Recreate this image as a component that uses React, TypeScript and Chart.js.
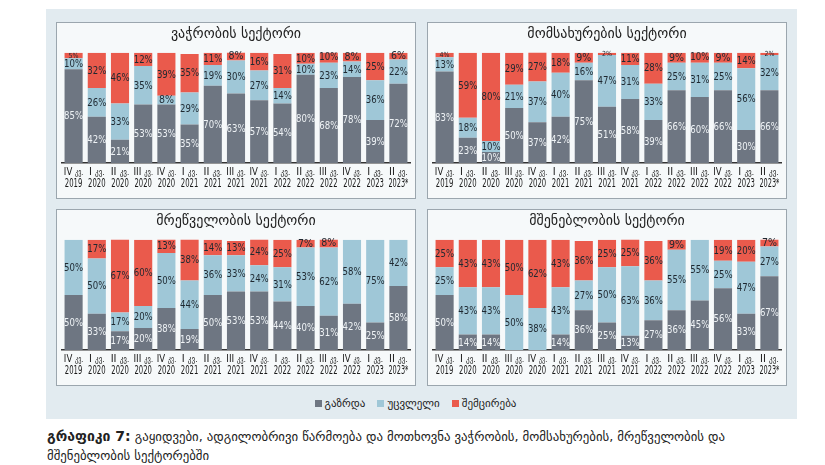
import React, { useEffect, useRef } from "react";
import { Chart, registerables } from "chart.js";

Chart.register(...registerables);

const CATEGORIES: string[][] = [
  ["IV კვ.", "2019"], ["I კვ.", "2020"], ["II კვ.", "2020"], ["III კვ.", "2020"],
  ["IV კვ.", "2020"], ["I კვ.", "2021"], ["II კვ.", "2021"], ["III კვ.", "2021"],
  ["IV კვ.", "2021"], ["I კვ.", "2022"], ["II კვ.", "2022"], ["III კვ.", "2022"],
  ["IV კვ.", "2022"], ["I კვ.", "2023"], ["II კვ.", "2023*"],
];

const SERIES_NAMES = ["გაზრდა", "უცვლელი", "შემცირება"];

const TITLES = ["ვაჭრობის სექტორი", "მომსახურების სექტორი", "მრეწველობის სექტორი", "მშენებლობის სექტორი"];

// Trade
const TRADE_UP = [85, 42, 21, 53, 53, 35, 70, 63, 57, 54, 80, 68, 78, 39, 72];
const TRADE_SAME = [10, 26, 33, 35, 8, 29, 19, 30, 27, 14, 10, 23, 14, 36, 22];
const TRADE_DOWN = [5, 32, 46, 12, 39, 35, 11, 8, 16, 31, 10, 10, 8, 25, 6];
// Services
const SERV_UP = [83, 23, 10, 50, 37, 42, 75, 51, 58, 39, 66, 60, 66, 30, 66];
const SERV_SAME = [13, 18, 10, 21, 37, 40, 16, 47, 31, 33, 25, 31, 25, 56, 32];
const SERV_DOWN = [4, 59, 80, 29, 27, 18, 9, 2, 11, 28, 9, 10, 9, 14, 2];
// Industry
const IND_UP = [50, 33, 17, 20, 38, 19, 50, 53, 53, 44, 40, 31, 42, 25, 58];
const IND_SAME = [50, 50, 17, 20, 50, 44, 36, 33, 24, 31, 53, 62, 58, 75, 42];
const IND_DOWN = [0, 17, 67, 60, 13, 38, 14, 13, 24, 25, 7, 8, 0, 0, 0];
// Construction
const CONS_UP = [50, 14, 14, 0, 0, 14, 36, 25, 13, 27, 36, 45, 56, 33, 67];
const CONS_SAME = [25, 43, 43, 50, 38, 43, 27, 50, 63, 36, 55, 55, 25, 47, 27];
const CONS_DOWN = [25, 43, 43, 50, 62, 43, 36, 25, 25, 36, 9, 0, 19, 20, 7];

const PANELS = [
  [TRADE_UP, TRADE_SAME, TRADE_DOWN],
  [SERV_UP, SERV_SAME, SERV_DOWN],
  [IND_UP, IND_SAME, IND_DOWN],
  [CONS_UP, CONS_SAME, CONS_DOWN],
];

const COLORS = ["#6e7682", "#9fc7d7", "#ea5a4c"];
const FONT = "'DejaVu Sans', sans-serif";
const NARROW = "'Liberation Sans Narrow', 'DejaVu Sans Condensed', 'DejaVu Sans', sans-serif";
const GEO_SMALL = "'DejaVu Sans Condensed', 'DejaVu Sans', sans-serif";

const labelPlugin = {
  id: "segLabels",
  afterDatasetsDraw(chart: any) {
    const ctx = chart.ctx;
    ctx.save();
    chart.data.datasets.forEach((ds: any, di: number) => {
      const meta = chart.getDatasetMeta(di);
      meta.data.forEach((bar: any, i: number) => {
        const v = ds.data[i];
        if (!v) return;
        const p = bar.getProps(["x", "y", "base"], true);
        const cy = (p.y + p.base) / 2;
        ctx.font = (v <= 5 ? "7px " : "10.5px ") + NARROW;
        ctx.fillStyle = di === 0 ? "#eef2f5" : "#1e2830";
        ctx.textAlign = "center";
        ctx.textBaseline = "middle";
        ctx.fillText(v + "%", p.x, cy + 0.5, v <= 5 ? 12 : 19);
      });
    });
    ctx.restore();
  },
};

// Draws the two-line category labels (condensed), with a smaller Georgian abbreviation.
const tickPlugin = {
  id: "tickLabels",
  afterDraw(chart: any) {
    const ctx = chart.ctx;
    const xs = chart.scales.x;
    ctx.save();
    ctx.fillStyle = "#1a1a1a";
    ctx.textBaseline = "middle";
    (chart.data.labels as string[][]).forEach((lab, i) => {
      const x = xs.getPixelForTick(i);
      const sp = lab[0].indexOf(" ");
      const roman = lab[0].slice(0, sp + 1);
      const geo = lab[0].slice(sp + 1);
      const y1 = xs.top + 9;
      const y2 = xs.top + 21.5;
      ctx.font = "11px " + NARROW;
      const w1 = ctx.measureText(roman).width;
      ctx.font = "8px " + GEO_SMALL;
      const w2 = ctx.measureText(geo).width;
      const total = w1 + w2;
      const s = Math.min(1, 19.5 / total);
      ctx.save();
      ctx.translate(x, y1);
      ctx.scale(s, 1);
      ctx.textAlign = "left";
      ctx.font = "11px " + NARROW;
      ctx.fillText(roman, -total / 2, 0);
      ctx.font = "8px " + GEO_SMALL;
      ctx.fillText(geo, -total / 2 + w1, 0.5);
      ctx.restore();
      ctx.textAlign = "center";
      ctx.font = "11.5px " + NARROW;
      ctx.fillText(lab[1], x, y2, lab[1].length > 4 ? 20 : 17.5);
    });
    ctx.restore();
  },
};

function Panel({ idx }: { idx: number }) {
  const ref = useRef<HTMLCanvasElement>(null);
  useEffect(() => {
    if (!ref.current) return;
    const series = PANELS[idx];
    const chart = new Chart(ref.current, {
      type: "bar",
      data: {
        labels: CATEGORIES,
        datasets: series.map((d, i) => ({
          label: SERIES_NAMES[i],
          data: d,
          backgroundColor: COLORS[i],
          borderWidth: 0,
          barPercentage: 0.78,
          categoryPercentage: 1,
        })),
      },
      options: {
        responsive: false,
        animation: false,
        layout: { padding: { left: 5, right: 5, top: 0, bottom: 5 } },
        plugins: {
          legend: { display: false },
          tooltip: { enabled: false },
          title: {
            display: true,
            text: TITLES[idx],
            color: "#222",
            font: { family: FONT, size: 14, weight: "normal" },
            padding: { top: 3, bottom: 10 },
          },
        },
        scales: {
          x: {
            stacked: true,
            grid: { display: false, drawTicks: false },
            border: { display: true, color: "#333", width: 1.5 },
            ticks: {
              color: "rgba(0,0,0,0)",
              font: { family: NARROW, size: 10, lineHeight: 1.2 },
              padding: 3,
              maxRotation: 0,
              minRotation: 0,
              autoSkip: false,
              callback: () => ["0", "0"],
            },
          },
          y: {
            stacked: true,
            display: false,
            min: 0,
            max: 100,
          },
        },
      },
      plugins: [labelPlugin, tickPlugin],
    });
    return () => chart.destroy();
  }, [idx]);
  return <canvas ref={ref} width={358} height={175} style={{ display: "block" }} />;
}

const PANEL_POS = [
  { left: 56, top: 22 },
  { left: 427, top: 22 },
  { left: 56, top: 209 },
  { left: 427, top: 209 },
];

export default function App() {
  return (
    <div style={{ position: "absolute", left: 0, top: 0, width: 825, height: 465, background: "#fff", fontFamily: FONT }}>
      <div style={{ position: "absolute", left: 46, top: 9, width: 751, height: 410, background: "#e2ebf0" }} />
      {PANEL_POS.map((p, i) => (
        <div
          key={i}
          style={{
            position: "absolute",
            left: p.left,
            top: p.top,
            width: 358,
            height: 175,
            border: "1px solid #9ba6ae",
            background: "#f6f9fa",
          }}
        >
          <Panel idx={i} />
        </div>
      ))}
      <div
        style={{
          position: "absolute",
          left: 46,
          top: 397,
          width: 751,
          textAlign: "center",
          fontSize: 11,
          color: "#222",
        }}
      >
        {SERIES_NAMES.map((n, i) => (
          <span key={i} style={{ marginRight: 12 }}>
            <span style={{ display: "inline-block", width: 7, height: 7, background: COLORS[i], marginRight: 3 }} />
            {n}
          </span>
        ))}
      </div>
      <div style={{ position: "absolute", left: 47, top: 427, width: 770, fontSize: 12.8, lineHeight: "19px", color: "#222" }}>
        <b style={{ fontSize: 14 }}>გრაფიკი 7:</b> გაყიდვები, ადგილობრივი წარმოება და მოთხოვნა ვაჭრობის, მომსახურების, მრეწველობის და
        <br />
        მშენებლობის სექტორებში
      </div>
    </div>
  );
}
